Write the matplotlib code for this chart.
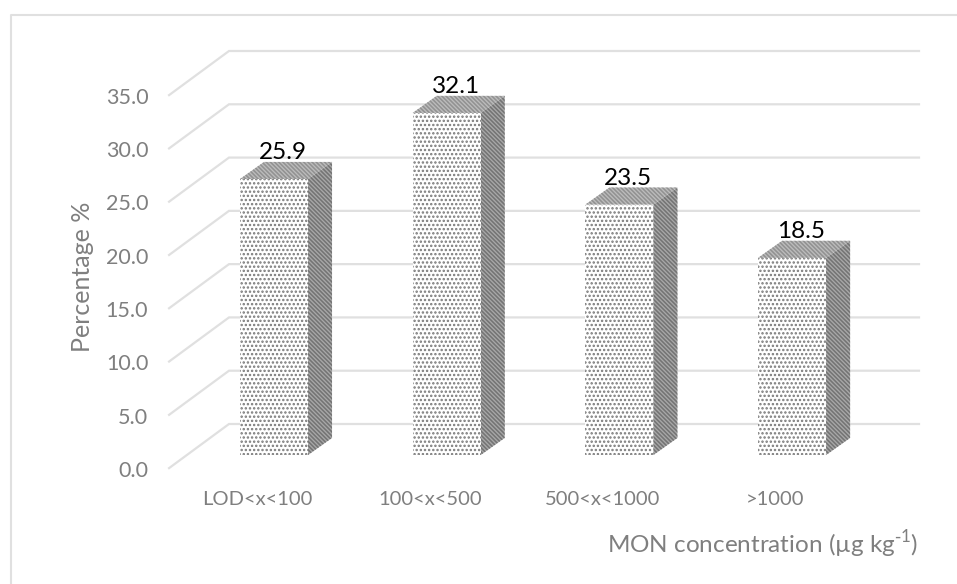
import matplotlib
matplotlib.use('Agg')
import matplotlib.pyplot as plt
import numpy as np

categories = ['LOD<x<100', '100<x<500', '500<x<1000', '>1000']
values = [25.9, 32.1, 23.5, 18.5]
yticks = [0.0, 5.0, 10.0, 15.0, 20.0, 25.0, 30.0, 35.0]

plt.rcParams['font.family'] = ['Lato', 'DejaVu Sans']
plt.rcParams['hatch.linewidth'] = 1.15

# fake 3D layout, in axis units
half_w = 0.197
depth_x = 0.139
depth_y = 1.6
front_base = -2.91
floor_x = -0.347
floor_y = -4.14

grey = '#7f7f7f'
grid_c = '#e0e0e0'

fig = plt.figure(figsize=(9.57, 5.84), dpi=100)
ax = fig.add_axes([229 / 957, 1 - 424 / 584, 690 / 957, 373 / 584])
ax.set_xlim(-0.2606, 3.735)
ax.set_ylim(0, 35)
ax.axis('off')

# outer frame, runs off the right and bottom edges
fig.add_artist(plt.Line2D([11 / 957, 11 / 957, 1], [0, 1 - 15 / 584, 1 - 15 / 584],
                          color=grid_c, lw=1.5))

# back wall gridlines and their slanted floor part
x0, x1 = ax.get_xlim()
for t in yticks:
    ax.plot([x0 + floor_x, x0, x1], [t + floor_y, t, t], color=grid_c, lw=1.6,
            clip_on=False, zorder=1, solid_joinstyle='miter')
    ax.annotate(f'{t:.1f}', (x0 + floor_x, t + floor_y), xytext=(-15, -2), textcoords='offset points',
                ha='right', va='center', color=grey, fontsize=15.5, annotation_clip=False)

pos = np.arange(len(categories))
for c, v in zip(pos, values):
    top = front_base + v
    # side face
    ax.fill([c + half_w, c + half_w + depth_x, c + half_w + depth_x, c + half_w],
            [front_base, front_base + depth_y, top + depth_y, top],
            facecolor='#a8a8a8', edgecolor='#747474', hatch='\\' * 8, lw=0,
            clip_on=False, zorder=3)
    # top face
    ax.fill([c - half_w, c + half_w, c + half_w + depth_x, c - half_w + depth_x],
            [top, top, top + depth_y, top + depth_y],
            facecolor='#bcbcbc', edgecolor='#929292', hatch='\\' * 8, lw=0,
            clip_on=False, zorder=3)

# front faces with the dotted fill
ax.bar(pos, values, width=2 * half_w, bottom=front_base, facecolor='white',
       edgecolor='#787878', hatch='....', lw=0, clip_on=False, zorder=4)

for c, v in zip(pos, values):
    ax.annotate(f'{v:.1f}', (c, front_base + v), xytext=(6.5, 19), textcoords='offset points',
                ha='center', va='center', color='black', fontsize=17.5, annotation_clip=False, zorder=5)

for c, name in zip(pos, categories):
    ax.annotate(name, (c, front_base), xytext=(-12, -32), textcoords='offset points',
                ha='center', va='center', color=grey, fontsize=14.5, annotation_clip=False)

fig.text(82 / 957, 1 - 277 / 584, 'Percentage %', rotation=90, ha='center', va='center',
         color=grey, fontsize=18)
fig.text(918 / 957, 1 - 544 / 584, 'MON concentration (µg kg$^{\\mathregular{\\text{-}1}}$)',
         ha='right', va='center', color=grey, fontsize=17.5)

fig.savefig('out.png', dpi=100)
